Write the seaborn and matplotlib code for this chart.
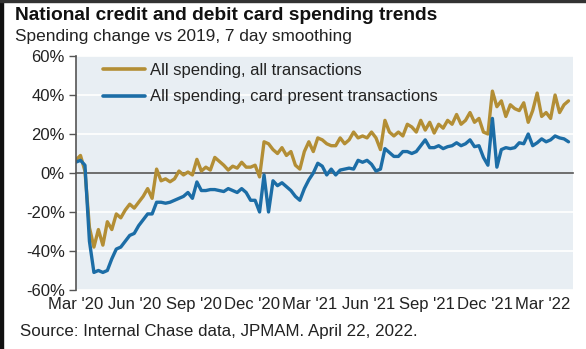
import matplotlib
matplotlib.use("Agg")
import matplotlib.pyplot as plt
import matplotlib.dates as mdates
from matplotlib.patches import Rectangle
import numpy as np
import pandas as pd
import seaborn as sns

# Weekly readings, starting the first week of March 2020 (percent change vs 2019)
start_date = "2020-03-01"
all_transactions = [
    6.7, 9, 1, -28, -38, -29, -37, -25, -29, -21,
    -23, -19, -16, -18, -15, -12, -8, -13, 2, -4,
    -3, -4.5, -3, 1, -1, 0.5, -1, 7, 1, 3,
    1.5, 8, 6, 4, 1.5, 3.5, 2.5, 5.5, 3, 3,
    4, -2, 16, 15, 12, 10, 13, 9, 11, 4,
    2, 11, 16, 11, 18, 17, 15, 14, 14, 18,
    15, 17, 21, 18, 19, 18, 21, 18, 12, 27,
    21, 19, 21, 19, 25, 23.6, 21, 27, 22, 26,
    20.5, 25, 23, 27, 25, 30, 25, 27, 31, 26,
    28, 21, 20, 42, 34, 37, 29, 35, 33, 32,
    36, 26, 32, 41, 29, 31, 28, 40, 31, 35,
    37,
]
card_present = [
    5.6, 6.5, 4, -35, -51, -50, -51, -50, -44, -39,
    -38, -35, -32, -31, -27, -24, -21, -21, -15, -15,
    -15.5, -15, -14, -13, -12, -10, -13, -4.6, -9, -9,
    -8.5, -8.5, -9, -9.5, -8, -9, -10, -8, -10, -14,
    -14, -20, -1, -20, -4, -6.5, -5, -7, -9, -12,
    -14, -8, -3.5, 0, 5, 3.5, -1, 2, -1, 1.5,
    2, 2.5, 2, 6.5, 5.5, 6.5, 4.5, 1, 2, 12.5,
    10.5, 8.5, 8.5, 11, 11, 10, 11, 14, 17, 13,
    13, 14, 12.5, 13.5, 14, 15.5, 14, 15, 17, 13.5,
    14, 8, 4, 28, 3, 12, 13, 12.5, 13, 15.5,
    15, 20, 14, 15.5, 17.5, 16, 17, 19, 18, 17.5,
    16,
]
series_names = ["All spending, all transactions",
                "All spending, card present transactions"]
y_ticks = [-60, -40, -20, 0, 20, 40, 60]

dates = pd.date_range(start_date, periods=len(all_transactions), freq="7D")
df = pd.concat([
    pd.DataFrame({"date": dates, "change": all_transactions, "series": series_names[0]}),
    pd.DataFrame({"date": dates, "change": card_present, "series": series_names[1]}),
])

GOLD = "#B38E35"
BLUE = "#1C6DA6"
PLOT_BG = "#E8EEF3"

sns.set_theme(style="white")
plt.rcParams["font.family"] = ["Liberation Sans", "DejaVu Sans"]

fig = plt.figure(figsize=(5.86, 3.49), dpi=100)
ax = fig.add_axes([0.1297, 0.1691, 0.8481, 0.6704])
ax.set_facecolor(PLOT_BG)

sns.lineplot(data=df, x="date", y="change", hue="series",
             palette=[GOLD, BLUE], linewidth=2.4, ax=ax, legend=False)

ax.set_ylim(-60, 60)
ax.set_xlim(pd.Timestamp("2020-03-01"), pd.Timestamp("2022-04-17"))
ax.set_yticks(y_ticks)
ax.set_yticklabels([f"{v}%" for v in y_ticks])
ax.set_xlabel("")
ax.set_ylabel("")

# horizontal white grid
ax.yaxis.grid(True, color="white", linewidth=1.2)
ax.xaxis.grid(False)
ax.set_axisbelow(True)

for side in ["top", "right"]:
    ax.spines[side].set_visible(False)
ax.spines["left"].set_color("#555555")
ax.spines["left"].set_linewidth(1.2)
ax.spines["bottom"].set_position(("data", 0))
ax.spines["bottom"].set_color("#555555")
ax.spines["bottom"].set_linewidth(1.2)
ax.spines["bottom"].set_zorder(1.5)

locator = mdates.MonthLocator(bymonth=[3, 6, 9, 12])
formatter = mdates.DateFormatter("%b '%y")
ax.xaxis.set_major_locator(locator)
ax.tick_params(axis="x", direction="out", length=3, width=1, color="#555555",
               labelbottom=False)
ax.tick_params(axis="y", direction="out", length=5, width=1, color="#555555",
               labelsize=12, labelcolor="#222222", pad=3, left=True)

# date labels along the bottom edge
sec = ax.secondary_xaxis(location=0)
sec.xaxis.set_major_locator(locator)
sec.xaxis.set_major_formatter(formatter)
sec.tick_params(length=0, labelsize=12, labelcolor="#222222", pad=5)
sec.spines["bottom"].set_visible(False)

handles = [plt.Line2D([], [], color=GOLD, linewidth=2.6),
           plt.Line2D([], [], color=BLUE, linewidth=2.6)]
ax.legend(handles, series_names, loc="upper left", bbox_to_anchor=(0.025, 1.035),
          frameon=False, fontsize=12, handlelength=2.5, handletextpad=0.3,
          labelspacing=0.7, labelcolor="#222222")

fig.text(0.026, 0.955, "National credit and debit card spending trends",
         fontsize=13.8, fontweight="bold", color="#111111", va="center", ha="left")
fig.text(0.026, 0.895, "Spending change vs 2019, 7 day smoothing",
         fontsize=12.4, color="#222222", va="center", ha="left")
fig.text(0.034, 0.049, "Source: Internal Chase data, JPMAM. April 22, 2022.",
         fontsize=12.2, color="#222222", va="center", ha="left")

# dark frame edges on the left and top
fig.patches.append(Rectangle((0, 0), 3 / 586, 1, transform=fig.transFigure,
                             color="#111111", zorder=10))
fig.patches.append(Rectangle((0, 1 - 1.5 / 349), 1, 1.5 / 349,
                             transform=fig.transFigure, color="#333333", zorder=10))

fig.savefig("out.png", dpi=100, facecolor="white")
